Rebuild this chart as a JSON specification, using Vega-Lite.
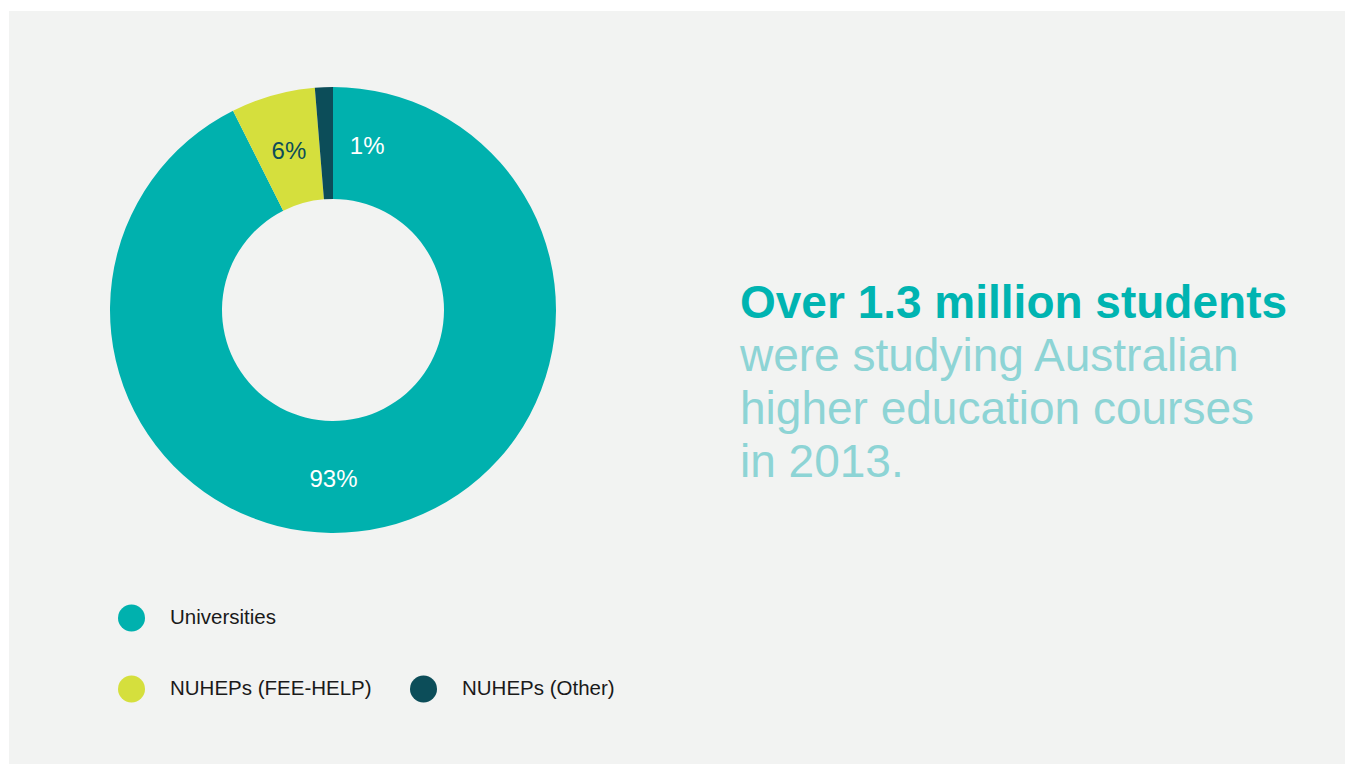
{
  "$schema": "https://vega.github.io/schema/vega-lite/v6.json",
  "background": "#ffffff",
  "padding": {"left": 9, "top": 11, "right": 0, "bottom": 0},
  "spacing": 0,
  "config": {
    "view": {"fill": "#f2f3f2", "stroke": null},
    "font": "Liberation Sans"
  },
  "vconcat": [
    {
      "spacing": 0,
      "hconcat": [
        {
          "width": 648,
          "height": 598,
          "data": {
            "values": [
              {"category": "Universities", "share": 0.926},
              {"category": "NUHEPs (FEE-HELP)", "share": 0.061},
              {"category": "NUHEPs (Other)", "share": 0.013}
            ]
          },
          "layer": [
            {
              "mark": {"type": "rect", "color": "#f2f3f2", "strokeWidth": 0},
              "encoding": {}
            },
            {
              "mark": {"type": "arc", "innerRadius": 111, "outerRadius": 223},
              "encoding": {
                "theta": {"field": "share", "type": "quantitative", "stack": true},
                "order": {"field": "share", "type": "quantitative", "sort": "descending"},
                "color": {
                  "field": "category",
                  "type": "nominal",
                  "scale": {
                    "domain": ["Universities", " ", "NUHEPs (FEE-HELP)", "NUHEPs (Other)"],
                    "range": ["#00b1ae", "rgba(242,243,242,0)", "#d5df3d", "#0c4d59"]
                  },
                  "legend": {
                    "orient": "none",
                    "legendX": 109,
                    "legendY": 593.5,
                    "direction": "horizontal",
                    "columns": 2,
                    "title": null,
                    "symbolType": "circle",
                    "symbolSize": 729,
                    "symbolStrokeWidth": 0,
                    "labelFont": "Liberation Sans",
                    "labelFontSize": 20.5,
                    "labelColor": "#1a1a1a",
                    "labelOffset": 25,
                    "columnPadding": 38,
                    "rowPadding": 44,
                    "labelLimit": 400
                  }
                }
              }
            },
            {
              "mark": {"type": "text", "radius": 167, "fontSize": 24, "color": "#ffffff", "dx": -38, "dy": 7},
              "encoding": {
                "theta": {"field": "share", "type": "quantitative", "stack": true},
                "order": {"field": "share", "type": "quantitative", "sort": "descending"},
                "detail": {"field": "category"},
                "text": {"field": "share", "type": "quantitative", "format": ".0%"},
                "opacity": {"condition": {"test": "datum.category === 'Universities'", "value": 1}, "value": 0}
              }
            },
            {
              "mark": {"type": "text", "radius": 167, "fontSize": 24, "color": "#0c4d59", "dx": 1, "dy": 3},
              "encoding": {
                "theta": {"field": "share", "type": "quantitative", "stack": true},
                "order": {"field": "share", "type": "quantitative", "sort": "descending"},
                "detail": {"field": "category"},
                "text": {"field": "share", "type": "quantitative", "format": ".0%"},
                "opacity": {"condition": {"test": "datum.category === 'NUHEPs (FEE-HELP)'", "value": 1}, "value": 0}
              }
            },
            {
              "mark": {"type": "text", "radius": 167, "fontSize": 24, "color": "#ffffff", "dx": 41, "dy": 4},
              "encoding": {
                "theta": {"field": "share", "type": "quantitative", "stack": true},
                "order": {"field": "share", "type": "quantitative", "sort": "descending"},
                "detail": {"field": "category"},
                "text": {"field": "share", "type": "quantitative", "format": ".0%"},
                "opacity": {"condition": {"test": "datum.category === 'NUHEPs (Other)'", "value": 1}, "value": 0}
              }
            }
          ]
        },
        {
          "width": 688,
          "height": 598,
          "data": {
            "values": [
              {"line": 1, "text": "Over 1.3 million students"},
              {"line": 2, "text": "were studying Australian"},
              {"line": 3, "text": "higher education courses"},
              {"line": 4, "text": "in 2013."}
            ]
          },
          "encoding": {
            "y": {"field": "line", "type": "quantitative", "axis": null, "scale": {"domain": [-4.7925, 6.4906], "reverse": true, "zero": false, "nice": false}},
            "text": {"field": "text", "type": "nominal"}
          },
          "layer": [
            {
              "transform": [{"filter": "datum.line == 1"}],
              "mark": {"type": "text", "align": "left", "baseline": "alphabetic", "dx": -261, "font": "Liberation Sans", "fontWeight": "bold", "fontSize": 46, "color": "#00b4b1"}
            },
            {
              "transform": [{"filter": "datum.line > 1"}],
              "mark": {"type": "text", "align": "left", "baseline": "alphabetic", "dx": -261, "font": "Liberation Sans", "fontWeight": "normal", "fontSize": 46, "color": "#8dd4d5"}
            }
          ]
        }
      ]
    },
    {
      "width": 1336,
      "height": 155,
      "data": {"values": [{"note": ""}]},
      "mark": {"type": "text"},
      "encoding": {
        "y": {"field": "note", "type": "nominal", "axis": null},
        "text": {"field": "note", "type": "nominal"}
      }
    }
  ]
}
